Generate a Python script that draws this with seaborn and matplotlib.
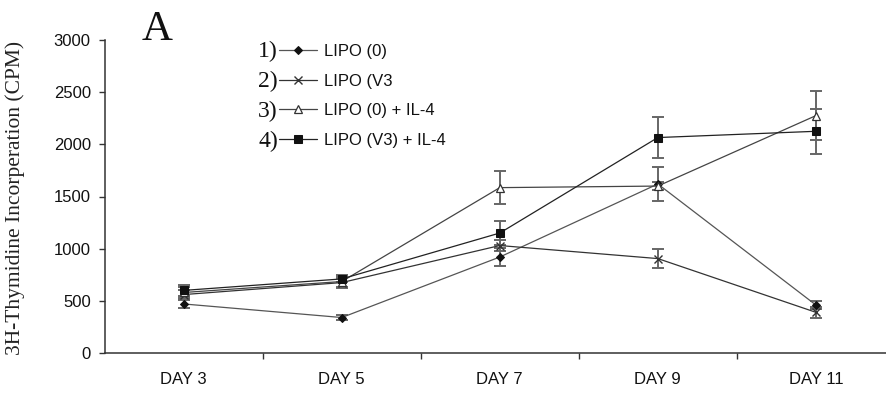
import numpy as np
import pandas as pd
import matplotlib
matplotlib.use("Agg")
import matplotlib.pyplot as plt
import seaborn as sns
from matplotlib.ticker import FixedLocator

# ---- data ----
days = ["DAY 3", "DAY 5", "DAY 7", "DAY 9", "DAY 11"]
series_names = ["LIPO (0)", "LIPO (V3", "LIPO (0) + IL-4", "LIPO (V3) + IL-4"]
lipo0 = [470, 340, 920, 1620, 460]
lipo0_err = [35, 25, 90, 160, 40]
lipov3 = [560, 675, 1030, 905, 390]
lipov3_err = [40, 40, 50, 90, 50]
lipo0_il4 = [580, 685, 1585, 1600, 2275]
lipo0_il4_err = [50, 60, 155, 40, 235]
lipov3_il4 = [600, 710, 1150, 2065, 2125]
lipov3_il4_err = [50, 30, 115, 200, 215]
yticks = [0, 500, 1000, 1500, 2000, 2500, 3000]

values = [lipo0, lipov3, lipo0_il4, lipov3_il4]
errors = [lipo0_err, lipov3_err, lipo0_il4_err, lipov3_il4_err]

pos = np.arange(len(days))
df = pd.DataFrame({
    "pos": np.tile(pos, len(series_names)),
    "value": np.concatenate(values),
    "err": np.concatenate(errors),
    "series": np.repeat(series_names, len(days)),
})

sns.set_style("white")
plt.rcParams["font.family"] = ["Liberation Sans", "DejaVu Sans"]

W, H = 887, 394
fig = plt.figure(figsize=(W / 100, H / 100), dpi=100)
x0, y0, y1 = 104.7, 353, 40
ax = fig.add_axes([x0 / W, (H - y0) / H, (W - x0) / W, (y0 - y1) / H])

styles = {
    "LIPO (0)": dict(marker="D", markersize=4.5, markerfacecolor="#111111", markeredgecolor="#111111"),
    "LIPO (V3": dict(marker="x", markersize=6, markerfacecolor="none", markeredgecolor="#333333", markeredgewidth=1.0),
    "LIPO (0) + IL-4": dict(marker="^", markersize=6, markerfacecolor="white", markeredgecolor="#333333", markeredgewidth=0.9),
    "LIPO (V3) + IL-4": dict(marker="s", markersize=6, markerfacecolor="#111111", markeredgecolor="#111111"),
}
linecolors = ["#555555", "#333333", "#444444", "#222222"]

for name, col in zip(series_names, linecolors):
    sub = df[df["series"] == name]
    ax.errorbar(sub["pos"], sub["value"], yerr=sub["err"], fmt="none",
                ecolor="#666666", elinewidth=1.4, capsize=4, capthick=1.4,
                zorder=2, label="_nolegend_")
for name, col in zip(series_names, linecolors):
    sub = df[df["series"] == name]
    sns.lineplot(data=sub, x="pos", y="value", ax=ax, color=col, linewidth=0.9,
                 label=name, zorder=3, **styles[name])

ax.set_xlim(-0.5, 4.45)
ax.set_ylim(0, 3000)
ax.set_yticks(yticks)
ax.set_xticks(pos)
ax.set_xticklabels(days)
ax.xaxis.set_minor_locator(FixedLocator(pos[:-1] + 0.5))
ax.tick_params(axis="x", which="major", length=0, pad=14, labelsize=12, colors="#111111")
ax.tick_params(axis="x", which="minor", length=4.5, width=1, direction="out", color="#333333", bottom=True)
ax.tick_params(axis="y", length=4, width=1, direction="out", pad=6, labelsize=12, colors="#111111", left=True)
ax.tick_params(axis="y", colors="#333333", labelcolor="#111111")
ax.set_xlabel("")
ax.set_ylabel("3H-Thymidine Incorperation (CPM)", family=["Liberation Serif"], fontsize=15.5, color="#222222")
ax.yaxis.label.set(rotation_mode="default", va="center", ha="center")
ax.yaxis.set_label_coords((15 - x0) / (W - x0), (y0 - 198) / (y0 - y1))
for s in ["top", "right"]:
    ax.spines[s].set_visible(False)
for s in ["left", "bottom"]:
    ax.spines[s].set_color("#333333")
    ax.spines[s].set_linewidth(1.1)

leg = ax.legend(loc="upper left", bbox_to_anchor=(279 / W, 1 - 44 / H), bbox_transform=fig.transFigure,
                frameon=False, borderpad=0, borderaxespad=0, handlelength=2.3, handletextpad=0.4,
                labelspacing=0.88, numpoints=1, fontsize=12)
for t in leg.get_texts():
    t.set_color("#111111")

row_y = [51, 81, 111, 141]
for i, yy in enumerate(row_y):
    fig.text(278 / W, 1 - yy / H, f"{i + 1})", family=["Liberation Serif"], fontsize=17,
             ha="right", va="center", color="#111111")

fig.text(157 / W, 1 - 30 / H, "A", family=["Liberation Serif"], fontsize=31, ha="center", va="center", color="#111111")

fig.savefig("out.png", dpi=100)
